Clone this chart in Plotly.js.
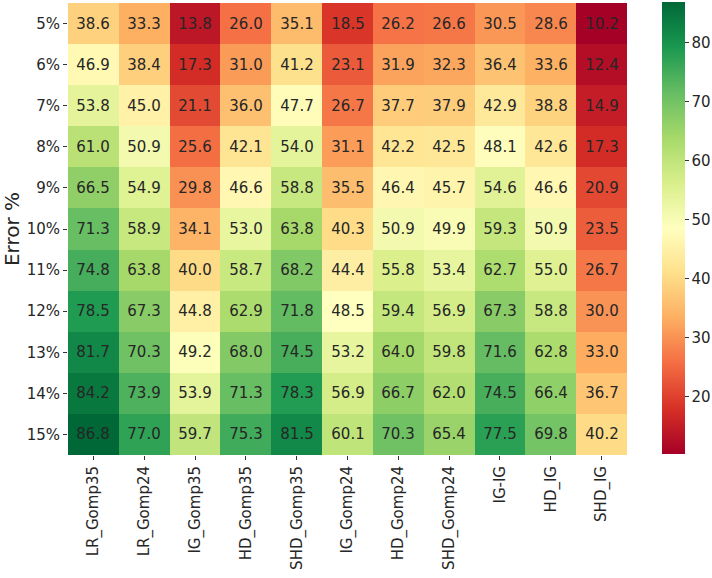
<!DOCTYPE html>
<html><head><meta charset="utf-8">
<script src="https://cdn.plot.ly/plotly-3.0.1.min.js"></script>
<style>html,body{margin:0;padding:0;background:#fff}#chart{width:712px;height:578px}</style>
</head><body><div id="chart"></div>
<script>
const methods = ["LR_Gomp35","LR_Gomp24","IG_Gomp35","HD_Gomp35","SHD_Gomp35","IG_Gomp24","HD_Gomp24","SHD_Gomp24","IG-IG","HD_IG","SHD_IG"];
const errors = ["5%","6%","7%","8%","9%","10%","11%","12%","13%","14%","15%"];
const row5  = [38.6,33.3,13.8,26.0,35.1,18.5,26.2,26.6,30.5,28.6,10.2];
const row6  = [46.9,38.4,17.3,31.0,41.2,23.1,31.9,32.3,36.4,33.6,12.4];
const row7  = [53.8,45.0,21.1,36.0,47.7,26.7,37.7,37.9,42.9,38.8,14.9];
const row8  = [61.0,50.9,25.6,42.1,54.0,31.1,42.2,42.5,48.1,42.6,17.3];
const row9  = [66.5,54.9,29.8,46.6,58.8,35.5,46.4,45.7,54.6,46.6,20.9];
const row10 = [71.3,58.9,34.1,53.0,63.8,40.3,50.9,49.9,59.3,50.9,23.5];
const row11 = [74.8,63.8,40.0,58.7,68.2,44.4,55.8,53.4,62.7,55.0,26.7];
const row12 = [78.5,67.3,44.8,62.9,71.8,48.5,59.4,56.9,67.3,58.8,30.0];
const row13 = [81.7,70.3,49.2,68.0,74.5,53.2,64.0,59.8,71.6,62.8,33.0];
const row14 = [84.2,73.9,53.9,71.3,78.3,56.9,66.7,62.0,74.5,66.4,36.7];
const row15 = [86.8,77.0,59.7,75.3,81.5,60.1,70.3,65.4,77.5,69.8,40.2];
const values = [row5,row6,row7,row8,row9,row10,row11,row12,row13,row14,row15];
const cbTicks = [20,30,40,50,60,70,80];

const rdylgn = ["#a50026","#d73027","#f46d43","#fdae61","#fee08b","#ffffbf","#d9ef8b","#a6d96a","#66bd63","#1a9850","#006837"];
const colorscale = rdylgn.map((c,i)=>[i/(rdylgn.length-1),c]);
const allVals = values.flat();
const font = "DejaVu Sans, sans-serif";

Plotly.newPlot("chart",[{
  type:"heatmap",
  x:methods, y:errors, z:values,
  colorscale:colorscale,
  zmin:Math.min(...allVals), zmax:Math.max(...allVals),
  texttemplate:"%{z:.1f}",
  textfont:{family:font,size:15,color:"#262626"},
  xgap:0, ygap:0,
  hoverinfo:"none",
  colorbar:{
    x:662/712, xanchor:"left", xref:"container", xpad:0,
    y:1-3/578, yanchor:"top", yref:"container", ypad:0,
    len:452, lenmode:"pixels",
    thickness:23, outlinewidth:0,
    tickvals:cbTicks, ticks:"outside", ticklen:4, tickcolor:"#333",
    tickfont:{family:font,size:15,color:"#262626"}
  }
}],{
  width:712, height:578,
  margin:{l:68,r:85,t:3,b:123, autoexpand:false},
  paper_bgcolor:"#fff", plot_bgcolor:"#fff",
  font:{family:font,color:"#262626"},
  xaxis:{type:"category", tickangle:-90, ticks:"outside", ticklen:4, tickcolor:"#333", automargin:false,
    tickfont:{family:font,size:15,color:"#262626"}, showgrid:false, zeroline:false, showline:false},
  yaxis:{type:"category", autorange:"reversed", ticks:"outside", ticklen:4, tickcolor:"#333", automargin:false,
    tickfont:{family:font,size:15,color:"#262626"}, showgrid:false, zeroline:false, showline:false,
    title:{text:"Error %", font:{family:font,size:20,color:"#262626"}, standoff:8}}
},{displayModeBar:false, staticPlot:true});
</script></body></html>
